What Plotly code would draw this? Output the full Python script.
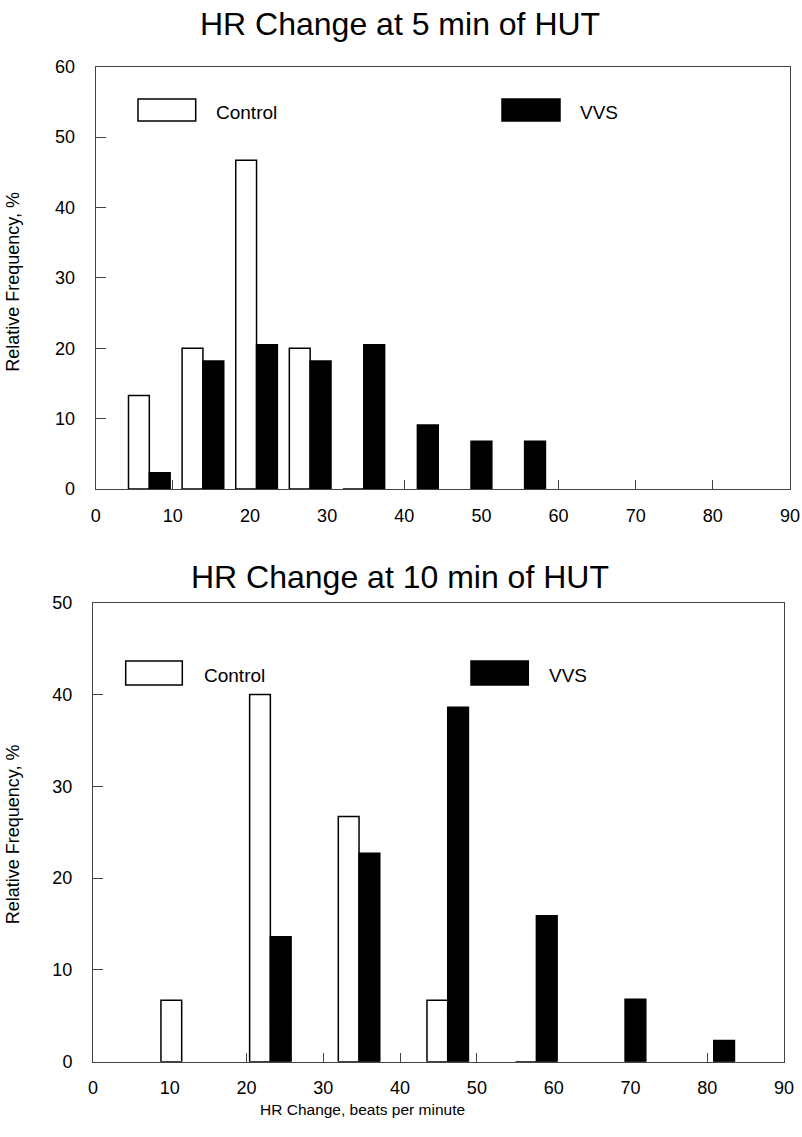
import plotly.graph_objects as go

W, H = 802, 1137

# ---- data ----
top_bins = [6.95, 13.9, 20.85, 27.8, 34.75, 41.7, 48.65, 55.6]
top_control = [13.3, 20.0, 46.7, 20.0, 0.0, None, None, None]
top_vvs = [2.3, 18.2, 20.5, 18.2, 20.5, 9.1, 6.8, 6.8]

bot_bins = [11.55, 23.1, 34.65, 46.2, 57.75, 69.3, 80.85]
bot_control = [6.7, 40.0, 26.7, 6.7, 0.0, None, None]
bot_vvs = [None, 13.6, 22.7, 38.6, 15.9, 6.8, 2.3]

x_ticks = [0, 10, 20, 30, 40, 50, 60, 70, 80, 90]
top_y_ticks = [0, 10, 20, 30, 40, 50, 60]
bot_y_ticks = [0, 10, 20, 30, 40, 50]

titles = ["HR Change at 5 min of HUT", "HR Change at 10 min of HUT"]
series_names = ["Control", "VVS"]
y_title = "Relative Frequency, %"
x_title = "HR Change, beats per minute"

BAR_W = 2.7
FONT = "Liberation Sans, Arial, sans-serif"


def px(x):
    return x / W


def py(y):
    return 1 - y / H


fig = go.Figure()

for (bins, ctrl, vvs, xa, ya) in [
    (top_bins, top_control, top_vvs, "x", "y"),
    (bot_bins, bot_control, bot_vvs, "x2", "y2"),
]:
    fig.add_trace(go.Bar(
        x=bins, y=ctrl, name=series_names[0], xaxis=xa, yaxis=ya,
        width=BAR_W, offset=-BAR_W,
        marker=dict(color="white", line=dict(color="black", width=1.5)),
        showlegend=False, hoverinfo="x+y",
    ))
    fig.add_trace(go.Bar(
        x=bins, y=vvs, name=series_names[1], xaxis=xa, yaxis=ya,
        width=BAR_W, offset=0,
        marker=dict(color="black", line=dict(color="black", width=1.5)),
        showlegend=False, hoverinfo="x+y",
    ))

axis_common = dict(
    showgrid=False, zeroline=False, showline=True, linecolor="#444",
    linewidth=1, mirror=True, ticks="inside", tickcolor="#444",
    tickwidth=1, tickfont=dict(family=FONT, size=18, color="black"),
    layer="below traces", automargin=False,
)

fig.update_layout(
    width=W, height=H,
    margin=dict(l=0, r=0, t=0, b=0, autoexpand=False),
    paper_bgcolor="white", plot_bgcolor="white",
    barmode="overlay",
    showlegend=False,
    xaxis=dict(domain=[px(95.7), px(790)], range=[0, 90], tickvals=x_ticks,
               ticklen=9, ticklabelstandoff=10, anchor="y", **axis_common),
    yaxis=dict(domain=[py(489), py(66.7)], range=[0, 60], tickvals=top_y_ticks,
               ticklen=10, ticklabelstandoff=16, anchor="x", **axis_common),
    xaxis2=dict(domain=[px(93), px(784)], range=[0, 90], tickvals=x_ticks,
                ticklen=9, ticklabelstandoff=10, anchor="y2", **axis_common),
    yaxis2=dict(domain=[py(1061.7), py(602.7)], range=[0, 50], tickvals=bot_y_ticks,
                ticklen=10, ticklabelstandoff=16, anchor="x2", **axis_common),
)

annotations = []
shapes = []

# titles
annotations.append(dict(text=titles[0], x=px(400), y=py(24), xref="paper", yref="paper",
                        xanchor="center", yanchor="middle", showarrow=False,
                        font=dict(family=FONT, size=32, color="black")))
annotations.append(dict(text=titles[1], x=px(400), y=py(577), xref="paper", yref="paper",
                        xanchor="center", yanchor="middle", showarrow=False,
                        font=dict(family=FONT, size=32, color="black")))

# y axis titles
for yc in [(66.7 + 489) / 2 + 4, (602.7 + 1061.7) / 2 + 2]:
    annotations.append(dict(text=y_title, x=px(13), y=py(yc), xref="paper", yref="paper",
                            xanchor="center", yanchor="middle", showarrow=False,
                            textangle=-90, font=dict(family=FONT, size=18, color="black")))

# x axis title (bottom only)
annotations.append(dict(text=x_title, x=px(258), y=py(1109), xref="paper", yref="paper",
                        xanchor="left", yanchor="middle", showarrow=False,
                        font=dict(family=FONT, size=15.5, color="black")))

# custom legends
legend_specs = [
    # (box x0, x1, y0, y1, text x, text y, fill, label)
    (138, 195.7, 99, 121, 214, 112, "white", series_names[0]),
    (502, 560, 99, 121, 578, 112, "black", series_names[1]),
    (125.7, 182.3, 661, 685, 201.7, 676, "white", series_names[0]),
    (471, 528.3, 661, 685, 546.7, 676, "black", series_names[1]),
]
for x0, x1, y0, y1, tx, ty, fill, label in legend_specs:
    shapes.append(dict(type="rect", xref="paper", yref="paper",
                       x0=px(x0), x1=px(x1), y0=py(y1), y1=py(y0),
                       fillcolor=fill, line=dict(color="black", width=1.5)))
    annotations.append(dict(text=label, x=px(tx), y=py(ty), xref="paper", yref="paper",
                            xanchor="left", yanchor="middle", showarrow=False,
                            font=dict(family=FONT, size=19, color="black")))

fig.update_layout(annotations=annotations, shapes=shapes)

fig.write_html("out.html", config={"displayModeBar": False},
               post_script="document.body.style.margin='0';")
